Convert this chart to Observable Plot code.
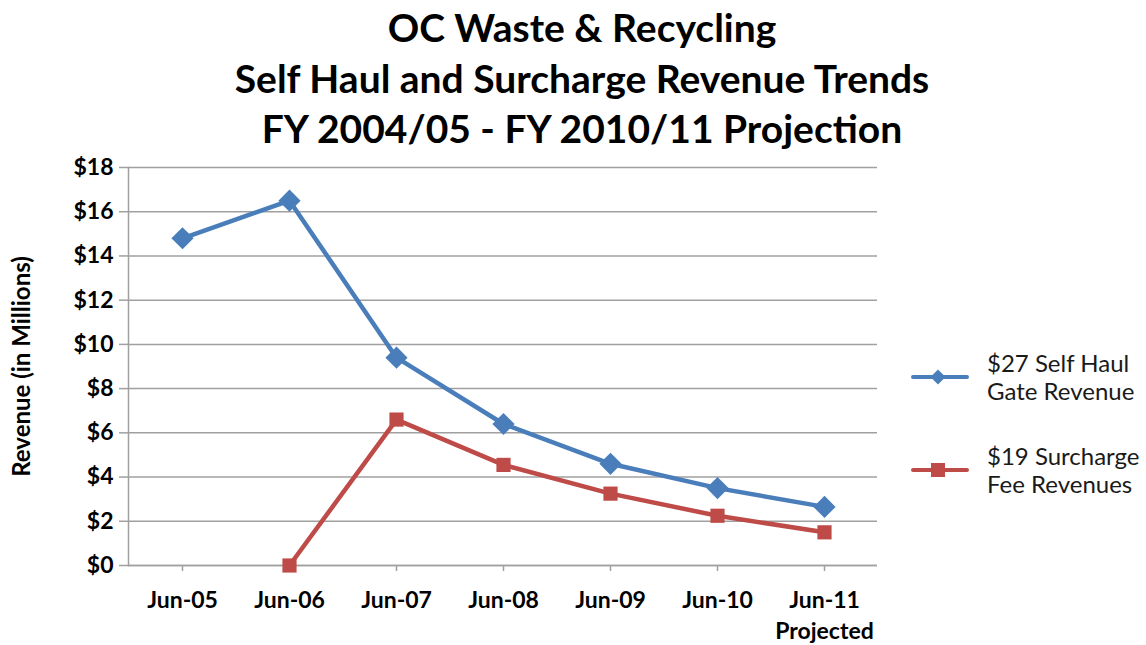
<!DOCTYPE html>
<html>
<head>
<meta charset="utf-8">
<script src="https://cdn.jsdelivr.net/npm/d3@7"></script>
<script src="https://cdn.jsdelivr.net/npm/@observablehq/plot@0.6"></script>
<style>
  html, body { margin: 0; padding: 0; background: #fff; }
  #wrap { position: relative; width: 1146px; height: 645px; font-family: Lato, "Open Sans", sans-serif; color: #000; }
  #title { height: 150px; box-sizing: border-box; padding-top: 2px; padding-left: 18px; text-align: center; font-weight: bold; font-size: 39px; line-height: 50.5px; white-space: nowrap; }
  #legend { position: absolute; left: 909px; top: 349px; font-size: 24px; color: #1a1a1a; line-height: 28px; }
  .item { display: flex; align-items: center; margin-bottom: 37px; }
  .item svg { margin-right: 16px; }
</style>
</head>
<body>
<div id="wrap">
  <div id="title">OC Waste &amp; Recycling<br>Self Haul and Surcharge Revenue Trends<br>FY 2004/05 - FY 2010/11 Projection</div>
  <div id="chart"></div>
  <div id="legend"></div>
</div>
<script>
const categories = ["Jun-05", "Jun-06", "Jun-07", "Jun-08", "Jun-09", "Jun-10", "Jun-11"];
const selfHaul = [14.8, 16.5, 9.4, 6.4, 4.6, 3.5, 2.65];
const surcharge = [null, 0, 6.6, 4.55, 3.25, 2.25, 1.5];
const seriesNames = ["$27 Self Haul Gate Revenue", "$19 Surcharge Fee Revenues"];
const legendLines = [["$27 Self Haul", "Gate Revenue"], ["$19 Surcharge", "Fee Revenues"]];
const yTicks = [0, 2, 4, 6, 8, 10, 12, 14, 16, 18];
const colors = ["#4A7EBB", "#BE4B48"];

const data = [];
[selfHaul, surcharge].forEach((vals, s) => {
  vals.forEach((v, i) => { if (v != null) data.push({series: seriesNames[s], cat: categories[i], value: v}); });
});
const blueData = data.filter(d => d.series === seriesNames[0]);
const redData = data.filter(d => d.series === seriesNames[1]);

const chart = Plot.plot({
  width: 1146,
  height: 495,
  marginLeft: 128,
  marginRight: 269,
  marginTop: 17,
  marginBottom: 80,
  style: {fontFamily: "Lato, 'Open Sans', sans-serif", background: "#fff", color: "#000"},
  x: {type: "point", domain: categories, padding: 0.5, label: null},
  y: {domain: [0, 18], label: null},
  color: {domain: seriesNames, range: colors},
  marks: [
    Plot.gridY(yTicks, {stroke: "#a0a0a0", strokeOpacity: 1, strokeWidth: 1.5}),
    Plot.frame({anchor: "left", stroke: "#a0a0a0", strokeWidth: 1.5}),
    Plot.ruleY([0], {stroke: "#a0a0a0", strokeWidth: 1.5}),
    Plot.axisY(yTicks, {tickSize: 9, stroke: "#a0a0a0", strokeWidth: 1.5, tickPadding: 6, fontSize: 23, fontWeight: "bold", tickFormat: d => "$" + d, label: null}),
    Plot.axisX({tickSize: 6, stroke: "#a0a0a0", strokeWidth: 1.5, tickPadding: 14, fontSize: 23, fontWeight: "bold", lineHeight: 1.35, label: null,
      tickFormat: d => d === "Jun-11" ? "Jun-11\nProjected" : d}),
    Plot.text(["Revenue (in Millions)"], {frameAnchor: "left", textAnchor: "middle", rotate: -90, dx: -106, fontSize: 24, fontWeight: "bold"}),
    Plot.line(data, {x: "cat", y: "value", z: "series", stroke: "series", strokeWidth: 4.5}),
    Plot.dot(blueData, {x: "cat", y: "value", symbol: "diamond2", fill: "series", r: 10, stroke: null}),
    Plot.dot(redData, {x: "cat", y: "value", symbol: "square", fill: "series", r: 8, stroke: null})
  ]
});
document.getElementById("chart").appendChild(chart);

const legend = document.getElementById("legend");
legendLines.forEach((lines, i) => {
  const item = document.createElement("div");
  item.className = "item";
  const sym = i === 0
    ? `<path d="M29 -7.5 L36.5 0 L29 7.5 L21.5 0 Z" fill="${colors[i]}"/>`
    : `<rect x="22" y="-7" width="14" height="14" fill="${colors[i]}"/>`;
  item.innerHTML = `<svg width="62" height="20" viewBox="0 -10 62 20"><line x1="4" x2="58" y1="0" y2="0" stroke="${colors[i]}" stroke-width="4" stroke-linecap="round"/>${sym}</svg><div>${lines.join("<br>")}</div>`;
  legend.appendChild(item);
});
</script>
</body>
</html>
